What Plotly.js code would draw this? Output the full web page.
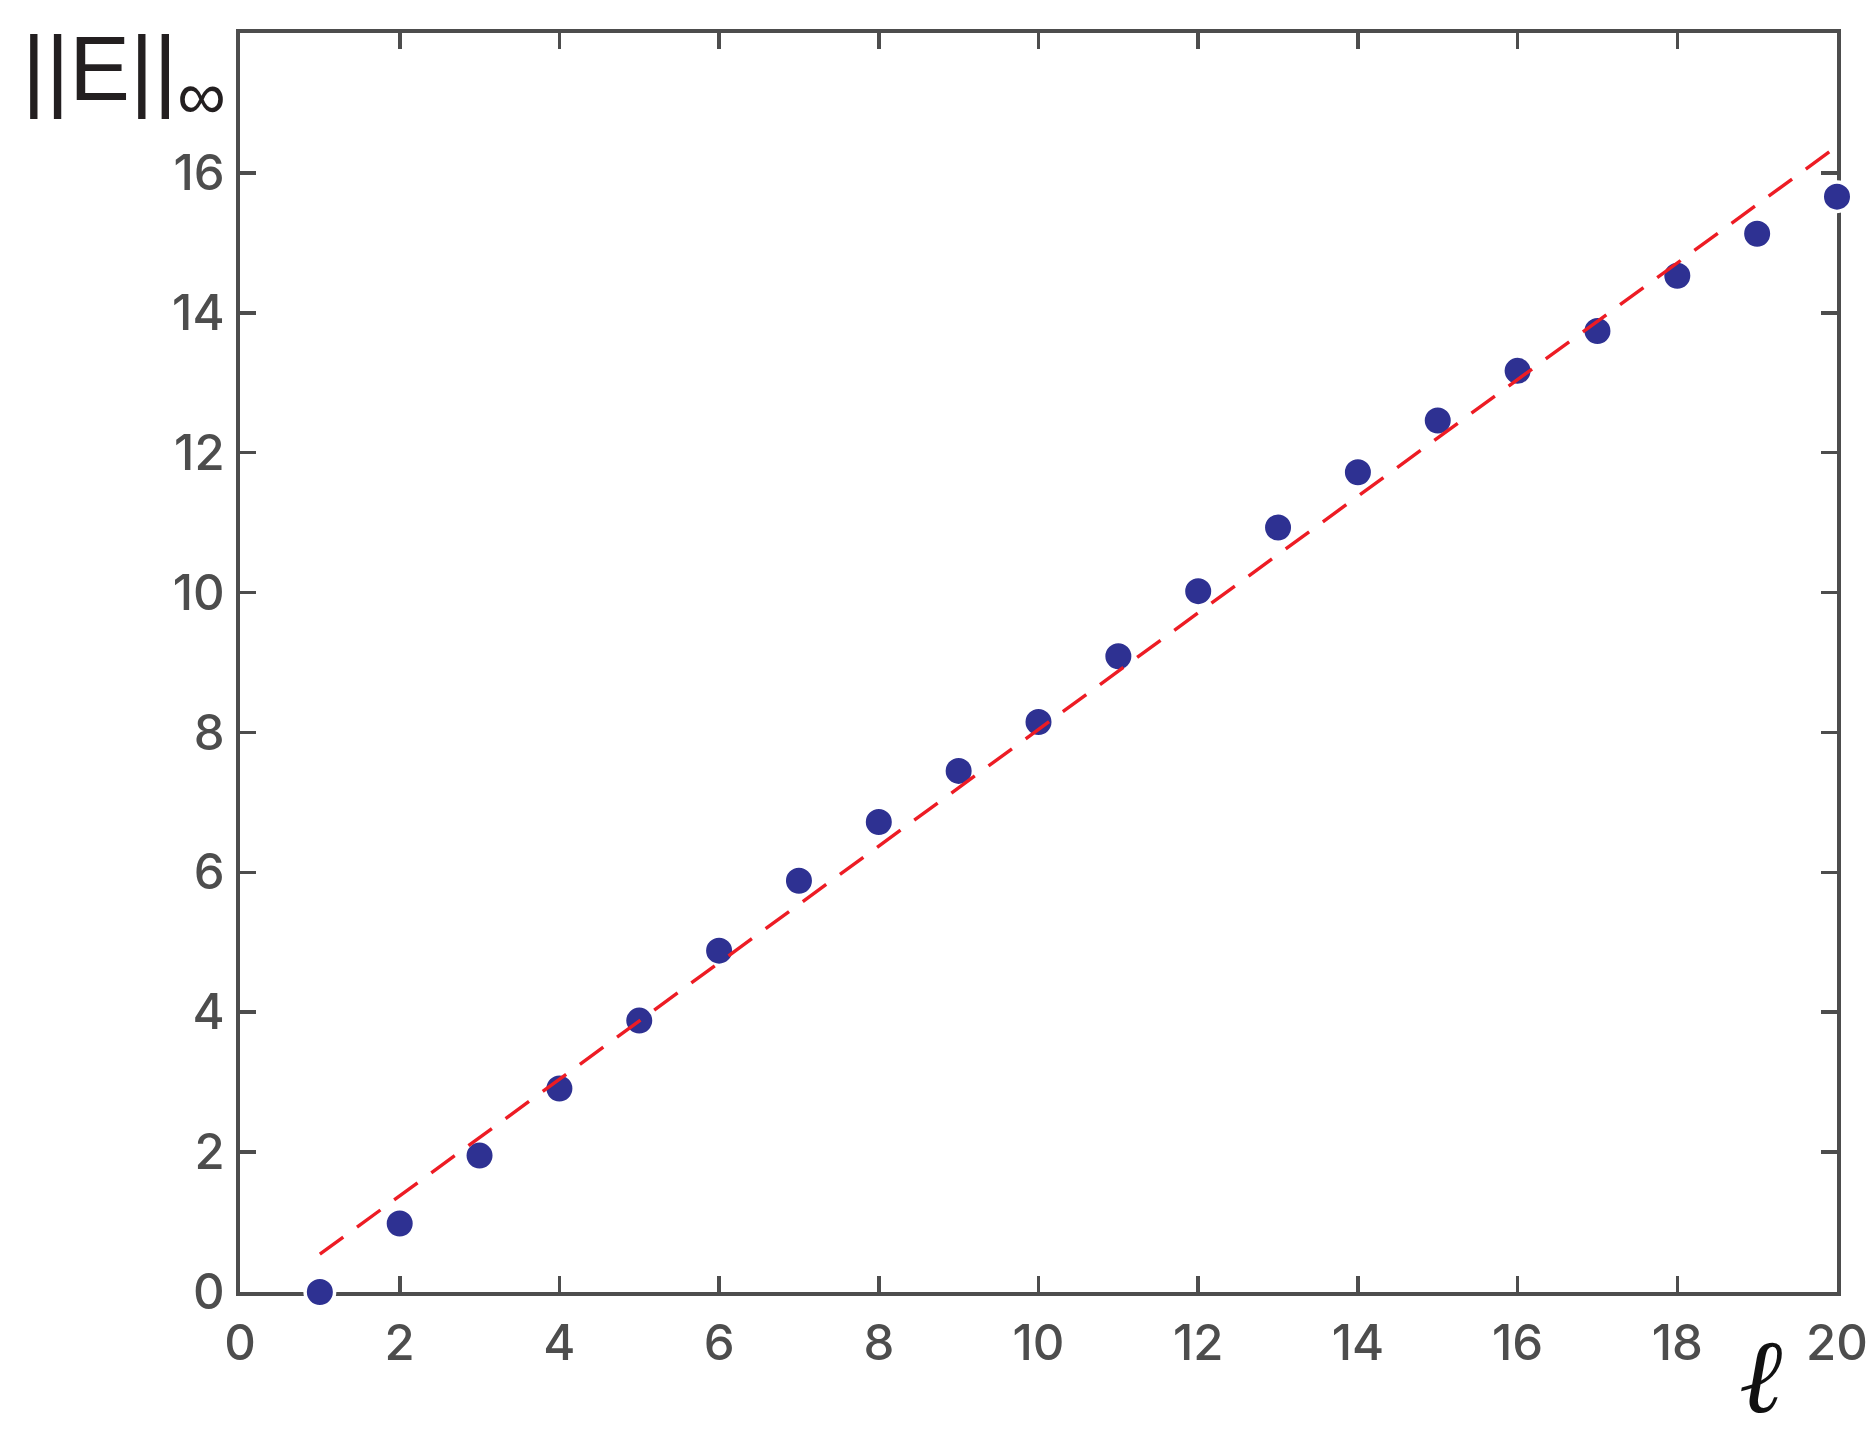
<!DOCTYPE html>
<html>
<head>
<meta charset="utf-8">
<script src="https://cdn.plot.ly/plotly-3.0.1.min.js"></script>
<style>
  html, body { margin: 0; padding: 0; background: #fff; }
  #graph { width: 1873px; height: 1443px; }
</style>
</head>
<body>
<div id="graph"></div>
<script>
// values
var ell = [1, 2, 3, 4, 5, 6, 7, 8, 9, 10, 11, 12, 13, 14, 15, 16, 17, 18, 19, 20];
var normE = [0, 0.98, 1.95, 2.91, 3.88, 4.88, 5.88, 6.72, 7.45, 8.15,
             9.09, 10.02, 10.93, 11.72, 12.46, 13.17, 13.74, 14.53, 15.13, 15.66];
var fitX = [1, 20];
var fitY = [0.54, 16.38];
var xTicks = [0, 2, 4, 6, 8, 10, 12, 14, 16, 18, 20];
var yTicks = [0, 2, 4, 6, 8, 10, 12, 14, 16];

var axisCol = '#4d4d4d';

var pts = {
  x: ell,
  y: normE,
  mode: 'markers',
  type: 'scatter',
  cliponaxis: false,
  marker: {size: 29.5, color: '#2e3192', line: {color: '#ffffff', width: 3.5}},
  hoverinfo: 'x+y'
};

var fit = {
  x: fitX,
  y: fitY,
  mode: 'lines',
  type: 'scatter',
  cliponaxis: false,
  line: {color: '#ed1c24', width: 3.4, dash: '29px,17px'}
};

var data = [pts, fit];

var axisBase = {
  showgrid: false,
  zeroline: false,
  showline: true,
  linecolor: axisCol,
  linewidth: 3.6,
  mirror: 'ticks',
  ticks: 'inside',
  ticklen: 16,
  tickwidth: 3.6,
  tickcolor: axisCol,
  layer: 'below traces',
  tickfont: {family: 'Inter, Liberation Sans, Arial, sans-serif', size: 49, weight: 500, color: axisCol}
};

var layout = {
  width: 1873,
  height: 1443,
  paper_bgcolor: '#ffffff',
  plot_bgcolor: '#ffffff',
  showlegend: false,
  margin: {l: 240, r: 36, t: 33, b: 151, pad: 0},
  xaxis: Object.assign({}, axisBase, {
    range: [0, 20],
    tickmode: 'array',
    tickvals: xTicks,
    ticktext: xTicks.map(String),
    ticklabelstandoff: 6
  }),
  yaxis: Object.assign({}, axisBase, {
    range: [0, 18],
    tickmode: 'array',
    tickvals: yTicks,
    ticktext: yTicks.map(String),
    ticklabelstandoff: 2
  }),
  annotations: [
    {
      text: '||E||<sub><span style="font-size:68px">∞</span></sub>',
      xref: 'paper', yref: 'paper',
      x: -0.138, y: 0.966,
      xanchor: 'left', yanchor: 'middle',
      showarrow: false,
      font: {family: 'Liberation Sans, Arial, sans-serif', size: 91, color: '#231f20'}
    },
    {
      text: '<i>ℓ</i>',
      xref: 'paper', yref: 'paper',
      x: 0.952, y: -0.067,
      xanchor: 'center', yanchor: 'middle',
      showarrow: false,
      font: {family: 'Liberation Serif, DejaVu Serif, serif', size: 104, color: '#111111'}
    }
  ]
};

Plotly.newPlot('graph', data, layout, {displayModeBar: false, staticPlot: true});
</script>
</body>
</html>
